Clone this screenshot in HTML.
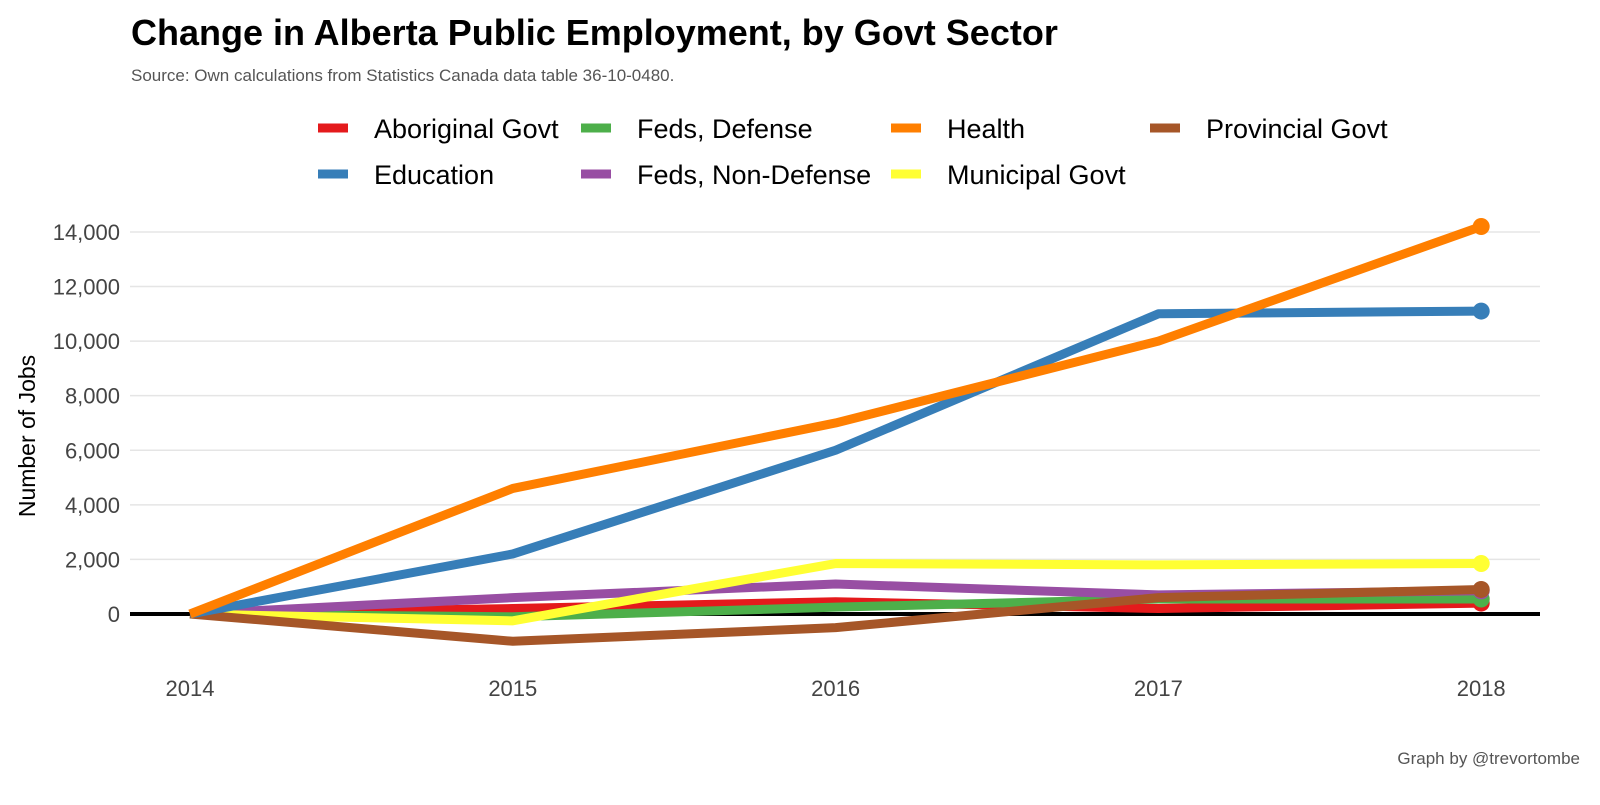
<!DOCTYPE html>
<html><head><meta charset="utf-8"><style>
body{margin:0;background:#fff;font-family:"Liberation Sans",sans-serif}
</style></head><body>
<svg width="1600" height="800" xmlns="http://www.w3.org/2000/svg" font-family="Liberation Sans, sans-serif">
<text x="131" y="45" font-size="36" font-weight="bold" fill="#000">Change in Alberta Public Employment, by Govt Sector</text>
<text x="131" y="81" font-size="17" fill="#555">Source: Own calculations from Statistics Canada data table 36-10-0480.</text>
<text x="1580" y="764" font-size="17" fill="#555" text-anchor="end">Graph by @trevortombe</text>
<text transform="translate(35,436) rotate(-90)" font-size="23" text-anchor="middle" fill="#000">Number of Jobs</text>
<g id="legend"></g>
<g id="grid"></g><g id="lines"></g>
</svg>
<script>
const years=[2014,2015,2016,2017,2018];
const seriesNames=["Aboriginal Govt","Education","Feds, Defense","Feds, Non-Defense","Health","Municipal Govt","Provincial Govt"];
const colors=["#E41A1C","#377EB8","#4DAF4A","#984EA3","#FF7F00","#FFFF33","#A65628"];
const aboriginal=[0,200,450,200,400];
const education=[0,2200,6000,11000,11100];
const fedsDefense=[0,-100,250,550,550];
const fedsNonDefense=[0,600,1100,700,850];
const health=[0,4600,7000,10000,14200];
const municipal=[0,-250,1850,1800,1850];
const provincial=[0,-1000,-500,600,900];
const yTicks=[0,2000,4000,6000,8000,10000,12000,14000];
const values=[aboriginal,education,fedsDefense,fedsNonDefense,health,municipal,provincial];
const drawOrder=[0,2,3,5,6,1,4];
const NS="http://www.w3.org/2000/svg";
const X=y=>190+(y-2014)*322.8;
const Y=v=>614-v*0.02729;
function mk(t,a,p){const e=document.createElementNS(NS,t);for(const k in a)e.setAttribute(k,a[k]);p.appendChild(e);return e;}
const grid=document.getElementById('grid');
yTicks.forEach(t=>{
 if(t!==0){const l=mk('line',{x1:130,x2:1540,y1:Y(t),y2:Y(t),stroke:'#e5e5e5','stroke-width':1.5},grid);
 
 }
 const tx=mk('text',{x:120,y:Y(t)+8,'text-anchor':'end','font-size':22,fill:'#444'},grid);tx.textContent=t.toLocaleString('en-US');
 
 
});
years.forEach(y=>{const tx=mk('text',{x:X(y),y:696,'text-anchor':'middle','font-size':22,fill:'#444'},grid);tx.textContent=y;
 
 });
const lines=document.getElementById('lines');
const z=mk('line',{x1:130,x2:1540,y1:Y(0),y2:Y(0),stroke:'#000','stroke-width':4},lines);


drawOrder.forEach(i=>{
 const pts=values[i].map((v,j)=>X(years[j])+','+Y(v)).join(' ');
 const pl=mk('polyline',{points:pts,fill:'none',stroke:colors[i],'stroke-width':9,'stroke-linejoin':'round'},lines);
 
 
 const c=mk('circle',{cx:X(2018),cy:Y(values[i][4]),r:8.5,fill:colors[i]},lines);
 
 
});
const lg=document.getElementById('legend');
const cols=[318,581,891,1150];
const order=[[0,2,4,6],[1,3,5]];
order.forEach((row,r)=>row.forEach((i,c)=>{
 const ly=128+r*46;
 const k=mk('line',{x1:cols[c],x2:cols[c]+30,y1:ly,y2:ly,stroke:colors[i],'stroke-width':9},lg);
 
 
 const t=mk('text',{x:cols[c]+56,y:ly+10,'font-size':27,fill:'#000'},lg);t.textContent=seriesNames[i];
 
 
}));
</script>
</body></html>
